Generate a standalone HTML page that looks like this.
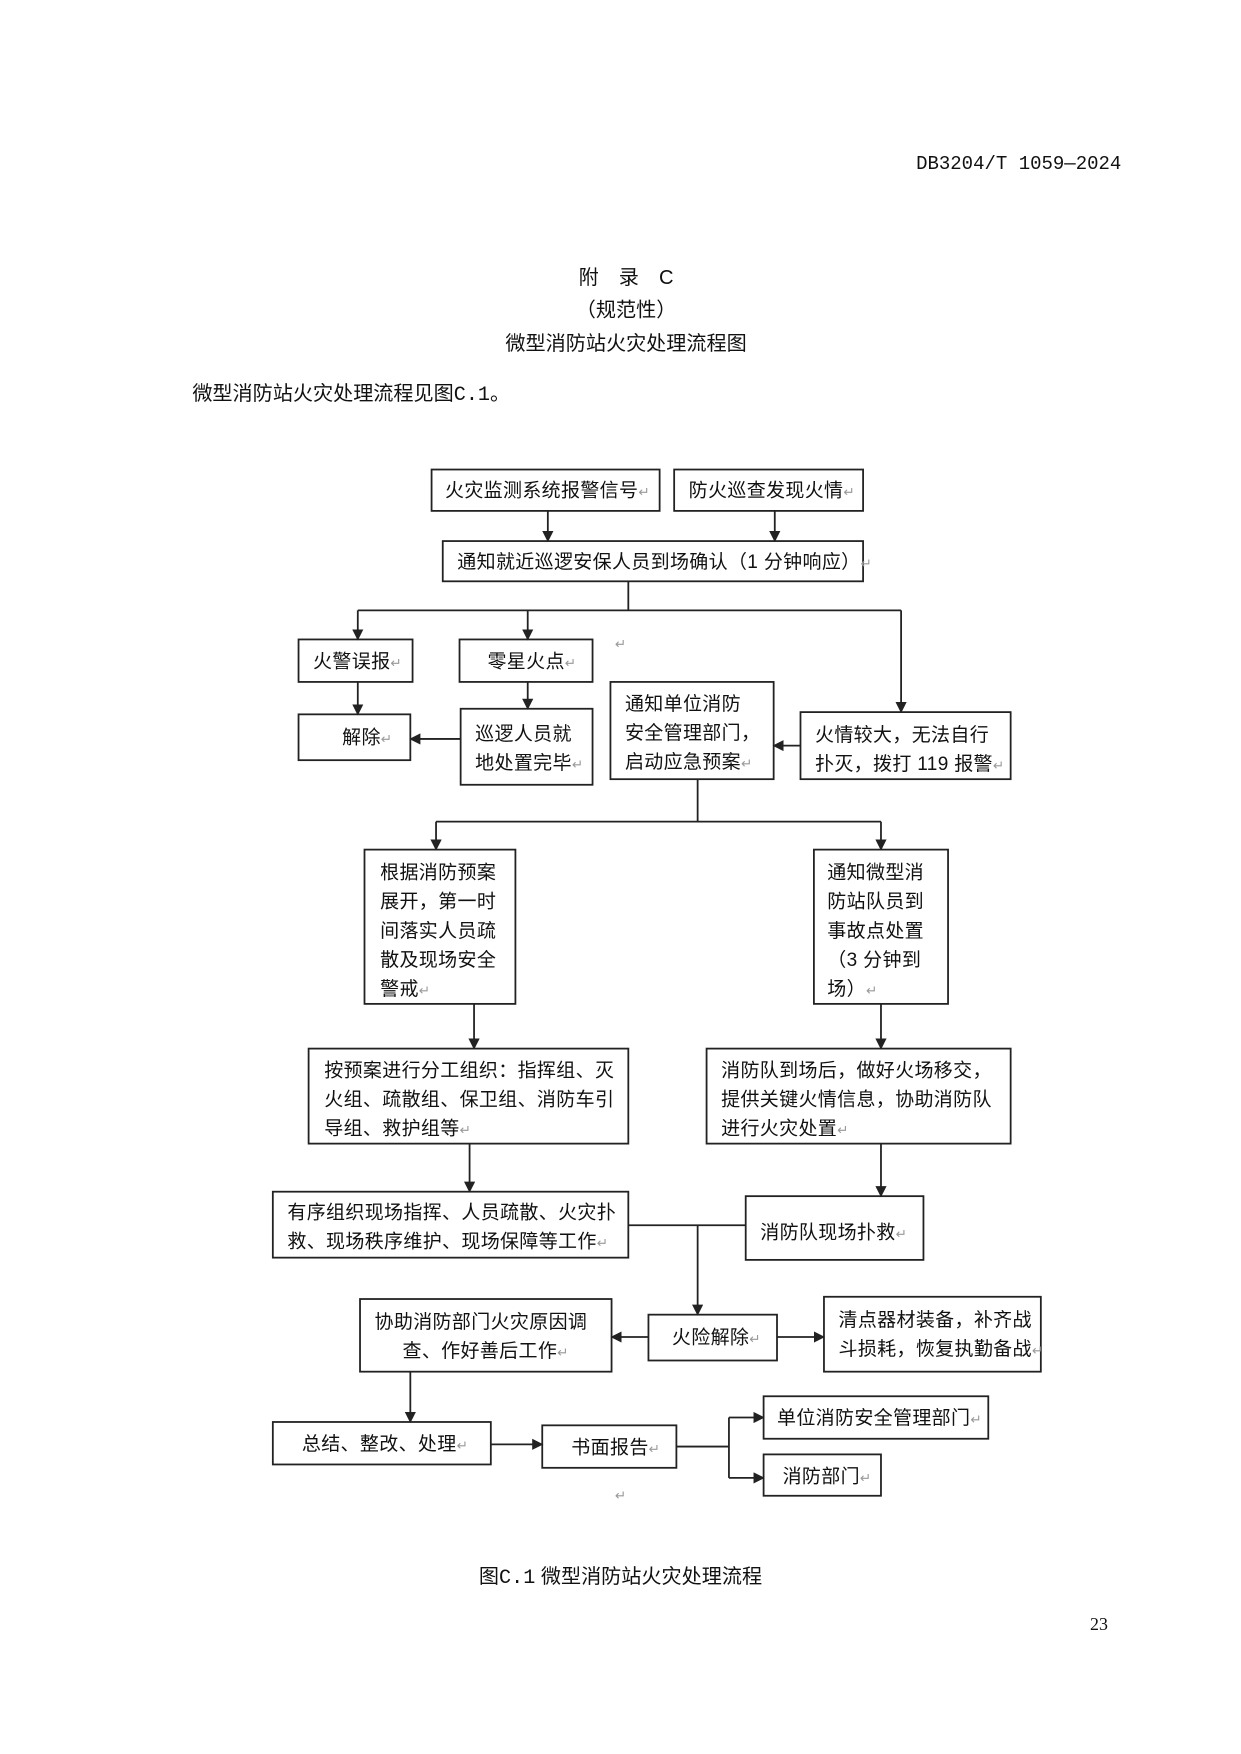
<!DOCTYPE html>
<html><head><meta charset="utf-8"><style>
html,body{margin:0;padding:0;background:#fff;}
svg{display:block;}
text{font-family:"Liberation Sans","Noto Sans CJK SC",sans-serif;fill:#111;}
.b{fill:#fff;stroke:#222;stroke-width:1.6;}
.l{stroke:#222;stroke-width:1.6;fill:none;}
.t{font-size:17px;letter-spacing:0.3px;}
.r{fill:#999;font-size:12px;}
</style></head><body>
<svg width="1241" height="1754" viewBox="0 0 1110 1569" xmlns="http://www.w3.org/2000/svg">
<defs><marker id="a" markerWidth="10" markerHeight="10" refX="9" refY="5" orient="auto" markerUnits="userSpaceOnUse"><path d="M0,0 L10,5 L0,10 z" fill="#222"/></marker></defs>
<text x="1003" y="151" font-size="17" text-anchor="end" style="font-family:'Liberation Mono','Noto Sans CJK SC',monospace">DB3204/T 1059—2024</text>
<text x="560" y="254" font-size="18" text-anchor="middle">附　录　C</text>
<text x="560" y="283" font-size="18" text-anchor="middle">（规范性）</text>
<text x="560" y="313" font-size="18" text-anchor="middle">微型消防站火灾处理流程图</text>
<text x="172" y="358" font-size="18">微型消防站火灾处理流程见图<tspan style="font-family:'Liberation Mono',monospace">C.1</tspan>。</text>

<g class="t">
<rect class="b" x="386" y="420" width="204" height="37"/><text x="398" y="444">火灾监测系统报警信号<tspan class="r">↵</tspan></text>
<rect class="b" x="603" y="420" width="169" height="37"/><text x="616" y="444">防火巡查发现火情<tspan class="r">↵</tspan></text>
<rect class="b" x="396" y="484" width="376" height="36"/><text x="409" y="508">通知就近巡逻安保人员到场确认（1 分钟响应）<tspan class="r">↵</tspan></text>
<rect class="b" x="267" y="572" width="102" height="38"/><text x="280" y="597">火警误报<tspan class="r">↵</tspan></text>
<rect class="b" x="411" y="572" width="119" height="38"/><text x="436" y="597">零星火点<tspan class="r">↵</tspan></text>
<text x="550" y="580" class="r">↵</text>
<rect class="b" x="267" y="639" width="100" height="41"/><text x="306" y="665">解除<tspan class="r">↵</tspan></text>
<rect class="b" x="412" y="634" width="118" height="68"/><text x="425" y="662">巡逻人员就</text><text x="425" y="688">地处置完毕<tspan class="r">↵</tspan></text>
<rect class="b" x="546" y="610" width="146" height="87"/><text x="559" y="635">通知单位消防</text><text x="559" y="661">安全管理部门，</text><text x="559" y="687">启动应急预案<tspan class="r">↵</tspan></text>
<rect class="b" x="716" y="637" width="188" height="60"/><text x="729" y="663">火情较大，无法自行</text><text x="729" y="689">扑灭，拨打 119 报警<tspan class="r">↵</tspan></text>
<rect class="b" x="326" y="760" width="135" height="138"/><text x="340" y="786">根据消防预案</text><text x="340" y="812">展开，第一时</text><text x="340" y="838">间落实人员疏</text><text x="340" y="864">散及现场安全</text><text x="340" y="890">警戒<tspan class="r">↵</tspan></text>
<rect class="b" x="728" y="760" width="120" height="138"/><text x="740" y="786">通知微型消</text><text x="740" y="812">防站队员到</text><text x="740" y="838">事故点处置</text><text x="740" y="864">（3 分钟到</text><text x="740" y="890">场）<tspan class="r">↵</tspan></text>
<rect class="b" x="276" y="938" width="286" height="85"/><text x="290" y="963">按预案进行分工组织：指挥组、灭</text><text x="290" y="989">火组、疏散组、保卫组、消防车引</text><text x="290" y="1015">导组、救护组等<tspan class="r">↵</tspan></text>
<rect class="b" x="632" y="938" width="272" height="85"/><text x="645" y="963">消防队到场后，做好火场移交，</text><text x="645" y="989">提供关键火情信息，协助消防队</text><text x="645" y="1015">进行火灾处置<tspan class="r">↵</tspan></text>
<rect class="b" x="244" y="1066" width="318" height="59"/><text x="257" y="1090">有序组织现场指挥、人员疏散、火灾扑</text><text x="257" y="1116">救、现场秩序维护、现场保障等工作<tspan class="r">↵</tspan></text>
<rect class="b" x="667" y="1070" width="159" height="57"/><text x="680" y="1108">消防队现场扑救<tspan class="r">↵</tspan></text>
<rect class="b" x="580" y="1176" width="115" height="41"/><text x="601" y="1202">火险解除<tspan class="r">↵</tspan></text>
<rect class="b" x="322" y="1162" width="225" height="65"/><text x="335" y="1188">协助消防部门火灾原因调</text><text x="360" y="1214">查、作好善后工作<tspan class="r">↵</tspan></text>
<rect class="b" x="737" y="1160" width="194" height="67"/><text x="750" y="1186">清点器材装备，补齐战</text><text x="750" y="1212">斗损耗，恢复执勤备战<tspan class="r">↵</tspan></text>
<rect class="b" x="244" y="1272" width="195" height="38"/><text x="270" y="1297">总结、整改、处理<tspan class="r">↵</tspan></text>
<rect class="b" x="485" y="1275" width="120" height="38"/><text x="511" y="1300">书面报告<tspan class="r">↵</tspan></text>
<rect class="b" x="683" y="1249" width="201" height="38"/><text x="695" y="1274">单位消防安全管理部门<tspan class="r">↵</tspan></text>
<rect class="b" x="683" y="1301" width="105" height="37"/><text x="700" y="1326">消防部门<tspan class="r">↵</tspan></text>
<text x="550" y="1342" class="r">↵</text>
</g>

<g class="l">
<path d="M490 457V484" marker-end="url(#a)"/>
<path d="M693 457V484" marker-end="url(#a)"/>
<path d="M562 520V546M320 546H806"/>
<path d="M320 546V572" marker-end="url(#a)"/>
<path d="M472 546V572" marker-end="url(#a)"/>
<path d="M806 546V637" marker-end="url(#a)"/>
<path d="M320 610V639" marker-end="url(#a)"/>
<path d="M472 610V634" marker-end="url(#a)"/>
<path d="M412 661H367" marker-end="url(#a)"/>
<path d="M716 667H692" marker-end="url(#a)"/>
<path d="M624 697V735M390 735H788"/>
<path d="M390 735V760" marker-end="url(#a)"/>
<path d="M788 735V760" marker-end="url(#a)"/>
<path d="M424 898V938" marker-end="url(#a)"/>
<path d="M788 898V938" marker-end="url(#a)"/>
<path d="M420 1023V1066" marker-end="url(#a)"/>
<path d="M788 1023V1070" marker-end="url(#a)"/>
<path d="M562 1096H667"/>
<path d="M624 1096V1176" marker-end="url(#a)"/>
<path d="M580 1196H547" marker-end="url(#a)"/>
<path d="M695 1196H737" marker-end="url(#a)"/>
<path d="M367 1227V1272" marker-end="url(#a)"/>
<path d="M439 1292H485" marker-end="url(#a)"/>
<path d="M605 1294H652M652 1268V1322"/>
<path d="M652 1268H683" marker-end="url(#a)"/>
<path d="M652 1322H683" marker-end="url(#a)"/>
</g>

<text x="555" y="1416" font-size="18" text-anchor="middle">图<tspan style="font-family:'Liberation Mono',monospace">C.1</tspan> 微型消防站火灾处理流程</text>
<text x="975" y="1458" font-size="16" style="font-family:'Liberation Serif',serif">23</text>
</svg>
</body></html>
